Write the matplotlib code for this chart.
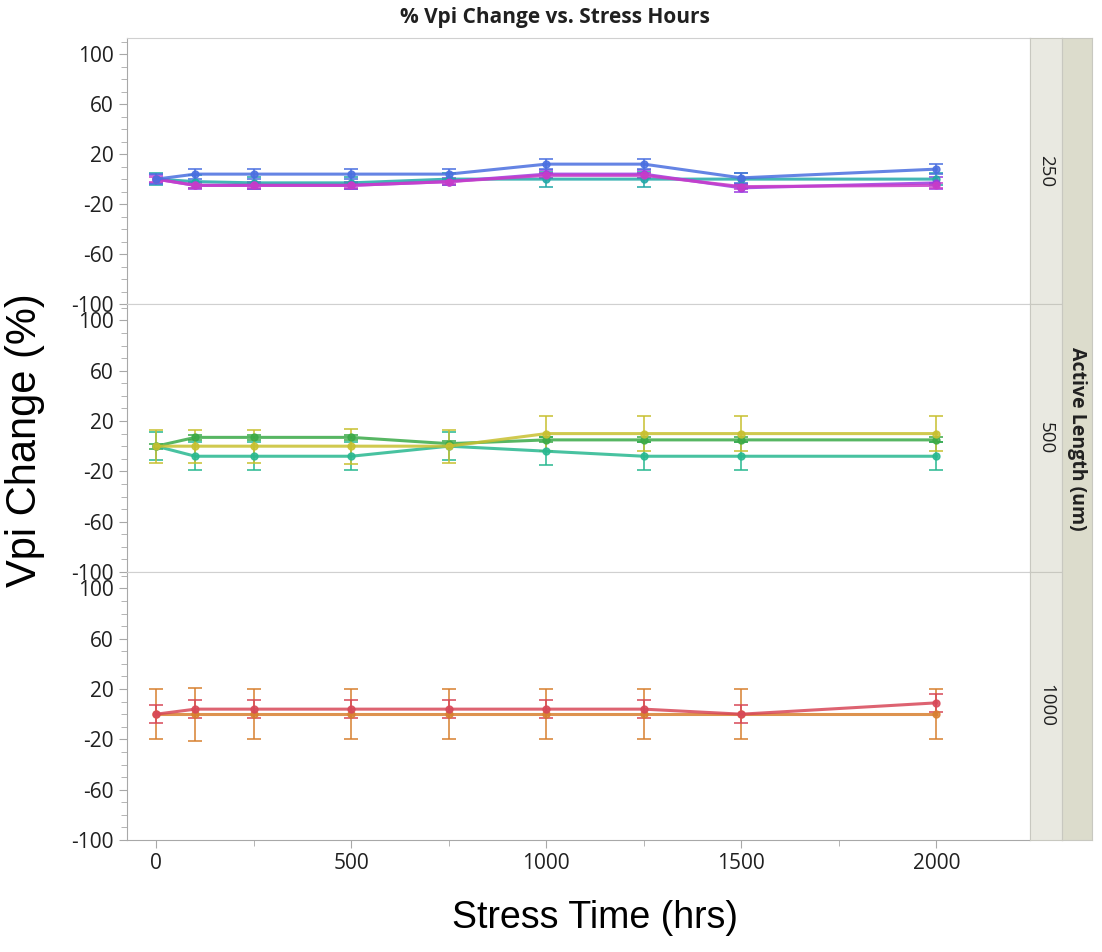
import numpy as np
import matplotlib.pyplot as plt
from matplotlib.ticker import MultipleLocator

plt.rcParams['axes.unicode_minus'] = False

# stress times (hrs)
hours = [0, 100, 250, 500, 750, 1000, 1250, 1500, 2000]

# Active Length 250 um
al250_blue = [0, 4, 4, 4, 4, 12, 12, 1, 8]
al250_blue_err = [4, 4, 4, 4, 4, 4, 4, 4, 4]
al250_teal = [0, -2, -3, -3, 0, 0, 0, 0, 0]
al250_teal_err = [5, 5, 5, 5, 5, 6, 6, 5, 5]
al250_magenta = [0, -5, -5, -5, -2, 3, 3, -6, -5]
al250_magenta_err = [2, 2, 2, 2, 2, 2, 2, 2, 2]
al250_violet = [0, -5, -5, -5, -2, 4, 4, -7, -3]
al250_violet_err = [3, 3, 3, 3, 3, 3, 3, 3, 5]

# Active Length 500 um
al500_green = [0, 7, 7, 7, 2, 5, 5, 5, 5]
al500_green_err = [2, 2, 2, 2, 2, 2, 2, 2, 2]
al500_yellow = [0, 0, 0, 0, 0, 10, 10, 10, 10]
al500_yellow_err = [13, 13, 13, 14, 13, 14, 14, 14, 14]
al500_teal = [0, -8, -8, -8, 0, -4, -8, -8, -8]
al500_teal_err = [11, 11, 11, 11, 11, 11, 11, 11, 11]

# Active Length 1000 um
al1000_red = [0, 4, 4, 4, 4, 4, 4, 0, 9]
al1000_red_err = [7, 7, 7, 7, 7, 7, 7, 7, 7]
al1000_orange = [0, 0, 0, 0, 0, 0, 0, 0, 0]
al1000_orange_err = [20, 21, 20, 20, 20, 20, 20, 20, 20]

strip_labels = ['250', '500', '1000']

panels = [
    [(al250_teal, al250_teal_err, '#22a8a8'),
     (al250_violet, al250_violet_err, '#9b3be0'),
     (al250_magenta, al250_magenta_err, '#c83cc8'),
     (al250_blue, al250_blue_err, '#4a6fe0')],
    [(al500_teal, al500_teal_err, '#28b890'),
     (al500_green, al500_green_err, '#3aaa48'),
     (al500_yellow, al500_yellow_err, '#c8c030')],
    [(al1000_orange, al1000_orange_err, '#d88030'),
     (al1000_red, al1000_red_err, '#d84858')],
]

W, H = 1102, 952
fig = plt.figure(figsize=(W / 100, H / 100), dpi=100)

x0, x1 = 127, 1030
edges = [38, 304, 572, 840]
gray = '#a8a8a8'

for i, series in enumerate(panels):
    top, bot = edges[i], edges[i + 1]
    ax = fig.add_axes([x0 / W, 1 - bot / H, (x1 - x0) / W, (bot - top) / H])
    for y, err, c in series:
        ax.errorbar(hours, y, yerr=err, color=c, lw=2.2, marker='o', ms=5,
                    capsize=5, elinewidth=1.3, capthick=1.3, alpha=0.85)
    ax.set_xlim(-75, 2240)
    ax.set_ylim(-100, 113)
    ax.set_yticks([-100, -60, -20, 20, 60, 100])
    ax.yaxis.set_minor_locator(MultipleLocator(10))
    ax.xaxis.set_minor_locator(MultipleLocator(250))
    ax.set_xticks([0, 500, 1000, 1500, 2000])
    ax.tick_params(axis='both', which='major', length=6, color=gray,
                   labelsize=15, labelcolor='#202020', direction='out')
    ax.tick_params(axis='both', which='minor', length=4, color=gray)
    for s in ax.spines.values():
        s.set_color('#d0d0d0')
    ax.spines['left'].set_color(gray)
    if i < 2:
        ax.tick_params(axis='x', which='both', bottom=False, labelbottom=False)
    else:
        ax.spines['bottom'].set_color(gray)
    for lab in ax.get_yticklabels() + ax.get_xticklabels():
        lab.set_family('Open Sans')

    # strip for the facet
    sax = fig.add_axes([1030 / W, 1 - bot / H, 32 / W, (bot - top) / H])
    sax.set_facecolor('#e9e9e1')
    sax.set_xticks([])
    sax.set_yticks([])
    for s in sax.spines.values():
        s.set_color('#c8c8c0')
    sax.text(0.5, 0.5, strip_labels[i], rotation=270, ha='center', va='center',
             fontsize=13.5, family='Open Sans', color='#202020', transform=sax.transAxes)

oax = fig.add_axes([1062 / W, 1 - 840 / H, 30 / W, (840 - 38) / H])
oax.set_facecolor('#dcdccc')
oax.set_xticks([])
oax.set_yticks([])
for s in oax.spines.values():
    s.set_color('#c8c8c0')
oax.text(0.5, 0.5, 'Active Length (um)', rotation=270, ha='center', va='center',
         fontsize=14, fontweight='bold', family='Open Sans', color='#202020',
         transform=oax.transAxes)

fig.text(555 / W, 1 - 18 / H, '% Vpi Change vs. Stress Hours', ha='center', va='center',
         fontsize=15, fontweight='bold', family='Open Sans', color='#202020')
fig.text(25 / W, 1 - 440 / H, 'Vpi Change (%)', rotation=90, ha='center', va='center',
         fontsize=30, family='Liberation Sans')
fig.text(595 / W, 1 - 918 / H, 'Stress Time (hrs)', ha='center', va='center',
         fontsize=27, family='Liberation Sans')

fig.savefig('out.png', dpi=100)
